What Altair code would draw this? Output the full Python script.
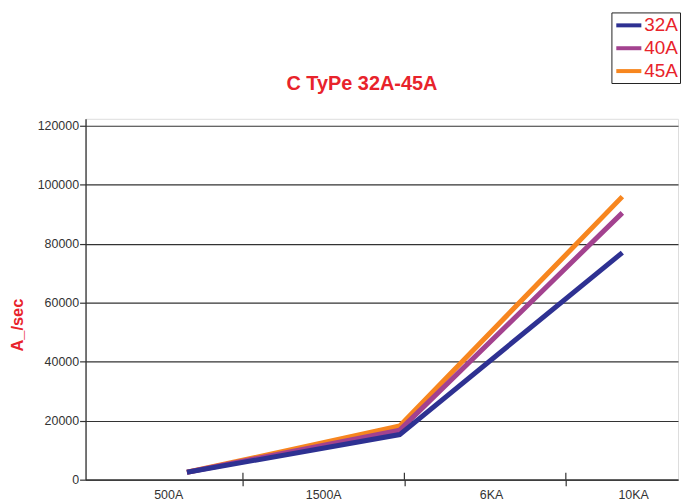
import altair as alt
import pandas as pd

# ---- data ----
series_names = ["32A", "40A", "45A"]
series_colors = ["#2e3192", "#a3428f", "#f7861f"]
x_pos = [0.653, 1.971, 3.350]            # positions of the three points along the category axis
values_32a = [2500, 15300, 77000]
values_40a = [2500, 16800, 90500]
values_45a = [2500, 18200, 96000]
categories = ["500A", "1500A", "6KA", "10KA"]
category_pos = [0.54, 1.50, 2.54, 3.42]
tick_pos = [1, 2, 3]
y_ticks = [0, 20000, 40000, 60000, 80000, 100000, 120000]

RED = "#e8232b"
INK = "#333333"
FONT = "Liberation Sans"
W, H = 596, 363

rows = []
for name, vals in [("45A", values_45a), ("40A", values_40a), ("32A", values_32a)]:
    for xp, v in zip(x_pos, vals):
        rows.append({"series": name, "x": xp, "value": v})
df = pd.DataFrame(rows)
ticks_df = pd.DataFrame({"t": tick_pos})
labels_df = pd.DataFrame({"p": category_pos, "c": categories})

xs = alt.Scale(domain=[0.025, 3.695], nice=False, zero=False)
ys = alt.Scale(domain=[0, 122400], nice=False)

xaxis = alt.Axis(values=tick_pos, labels=False, title=None, grid=False,
                 tickSize=6, tickColor=INK, tickWidth=1.2,
                 domainColor=INK, domainWidth=1.3)
yaxis = alt.Axis(values=y_ticks, format="d", grid=True, gridColor=INK, gridWidth=1.2,
                 tickSize=6, tickColor=INK, tickWidth=1.2,
                 domainColor=INK, domainWidth=1.3,
                 labelFont=FONT, labelFontSize=12.5, labelColor=INK, labelPadding=1,
                 title="A_/sec", titleColor=RED, titleFont=FONT, titleFontSize=16.5,
                 titleFontWeight="bold", titleAngle=270, titleX=-63, titleY=207,
                 titleAlign="center", titleBaseline="alphabetic")

lines = alt.Chart(df).mark_line(strokeWidth=5, strokeJoin="miter", strokeCap="butt").encode(
    x=alt.X("x:Q", scale=xs, axis=xaxis),
    y=alt.Y("value:Q", scale=ys, axis=yaxis),
    color=alt.Color("series:N",
                    scale=alt.Scale(domain=series_names, range=series_colors),
                    legend=alt.Legend(title=None, orient="none", legendX=529, legendY=-107,
                                      symbolType="M-0.9,0H1.9", symbolSize=324,
                                      symbolStrokeWidth=4, labelFont=FONT, labelFontSize=19,
                                      labelColor=RED, labelOffset=9, padding=2, rowPadding=2,
                                      strokeColor="#222222")),
)

xticks = alt.Chart(ticks_df).mark_rule(color=INK, strokeWidth=1.2).encode(
    x=alt.X("t:Q", scale=xs, axis=xaxis),
    y=alt.value(H - 7),
    y2=alt.value(H),
)

xlabels = alt.Chart(labels_df).mark_text(font=FONT, fontSize=12.5, color=INK,
                                         baseline="alphabetic", align="center").encode(
    x=alt.X("p:Q", scale=xs, axis=xaxis),
    y=alt.value(H + 19),
    text="c:N",
)

chart = alt.layer(lines, xticks, xlabels).properties(
    width=W, height=H,
    title=alt.Title("C TyPe 32A-45A", font=FONT, fontSize=20, fontWeight="bold", color=RED,
                    anchor="middle", frame="group", dx=-20, dy=127, offset=28,
                    baseline="alphabetic"),
    autosize=alt.AutoSizeParams(type="none"),
    padding={"left": 78, "top": 110, "right": 5, "bottom": 20},
).configure_view(stroke=None).configure(background="white")

chart.save("out.html", embed_options={"renderer": "svg", "actions": False})
